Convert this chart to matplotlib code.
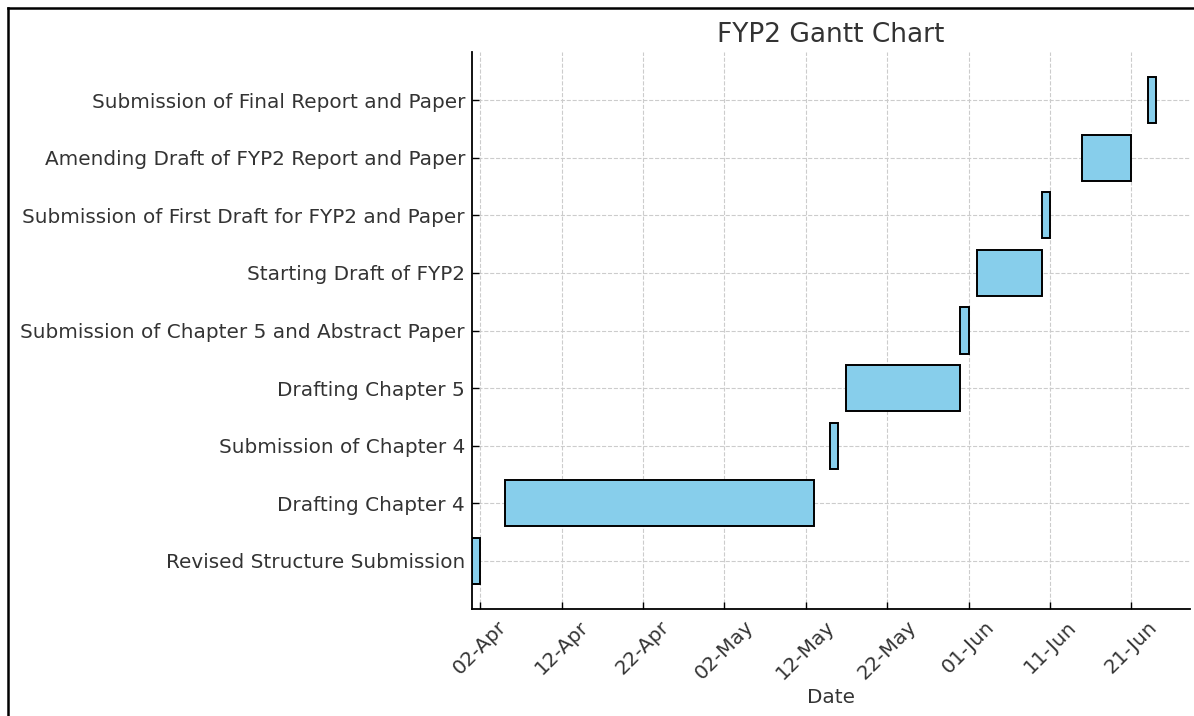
import pandas as pd
import matplotlib
matplotlib.use('Agg')
import matplotlib.pyplot as plt
import matplotlib.dates as mdates
from matplotlib.lines import Line2D

# Task list (bottom to top) with start / end dates
tasks = ['Revised Structure Submission', 'Drafting Chapter 4', 'Submission of Chapter 4',
         'Drafting Chapter 5', 'Submission of Chapter 5 and Abstract Paper', 'Starting Draft of FYP2',
         'Submission of First Draft for FYP2 and Paper', 'Amending Draft of FYP2 Report and Paper',
         'Submission of Final Report and Paper']
starts = ['2024-04-01', '2024-04-05', '2024-05-15', '2024-05-17', '2024-05-31',
          '2024-06-02', '2024-06-10', '2024-06-15', '2024-06-23']
ends = ['2024-04-02', '2024-05-13', '2024-05-16', '2024-05-31', '2024-06-01',
        '2024-06-10', '2024-06-11', '2024-06-21', '2024-06-24']
tick_dates = pd.date_range('2024-04-02', periods=9, freq='10D')

start_dt = pd.to_datetime(starts)
end_dt = pd.to_datetime(ends)
left = mdates.date2num(start_dt)
width = mdates.date2num(end_dt) - left

txt = '#333333'
plt.rcParams['font.family'] = ['DejaVu Sans']

fig = plt.figure(figsize=(11.94, 7.16), dpi=100)
ax = fig.add_axes([0.3953, 0.1494, 0.6013, 0.778])

ax.barh(tasks, width, left=left, height=0.8, color='skyblue', edgecolor='black', linewidth=1.4)

ax.set_xlim(left=mdates.date2num(pd.Timestamp('2024-04-01')))
ax.set_xticks(mdates.date2num(tick_dates))
ax.xaxis.set_major_formatter(mdates.DateFormatter('%d-%b'))
plt.setp(ax.get_xticklabels(), rotation=45)

ax.grid(True, linestyle='--', color='#cccccc', linewidth=0.8)
ax.set_axisbelow(True)
for s in ['top', 'right']:
    ax.spines[s].set_visible(False)
for s in ['left', 'bottom']:
    ax.spines[s].set_linewidth(1.3)

ax.tick_params(axis='both', direction='in', length=5, width=1, labelsize=14.4, labelcolor=txt)
ax.tick_params(axis='y', pad=5)
ax.tick_params(axis='x', pad=6)
ax.set_xlabel('Date', fontsize=14.4, color=txt, labelpad=3)
ax.set_title('FYP2 Gantt Chart', fontsize=19, color=txt, pad=7)

# screenshot frame on the left and top edges
fx = 8 / 1194
fy = 1 - 8 / 716
fig.add_artist(Line2D([fx, fx], [0, fy], transform=fig.transFigure, color='black', linewidth=1.8))
fig.add_artist(Line2D([fx, 1], [fy, fy], transform=fig.transFigure, color='black', linewidth=1.8))

fig.savefig('out.png', dpi=100)
